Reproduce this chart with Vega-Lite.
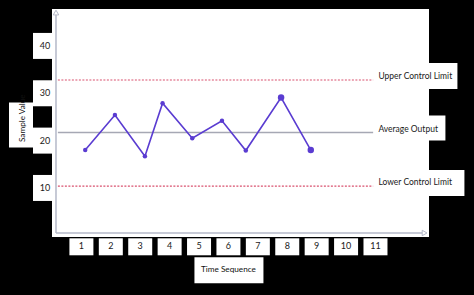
{
  "$schema": "https://vega.github.io/schema/vega-lite/v6.json",
  "width": 377,
  "height": 228,
  "autosize": {"type": "none"},
  "padding": {"left": 52, "top": 9, "right": 45, "bottom": 58},
  "background": "#000000",
  "config": {
    "view": {"fill": "#ffffff", "stroke": null},
    "font": "Lato",
    "axis": {"disable": true}
  },
  "datasets": {
    "series": [
      {"t": 1.13, "v": 18.0},
      {"t": 2.14, "v": 25.4},
      {"t": 3.16, "v": 16.7},
      {"t": 3.76, "v": 27.9},
      {"t": 4.77, "v": 20.5},
      {"t": 5.78, "v": 24.2},
      {"t": 6.59, "v": 17.9},
      {"t": 7.79, "v": 29.1},
      {"t": 8.8, "v": 18.0}
    ],
    "xticks": [{"t": 1}, {"t": 2}, {"t": 3}, {"t": 4}, {"t": 5}, {"t": 6}, {"t": 7}, {"t": 8}, {"t": 9}, {"t": 10}, {"t": 11}],
    "yticks": [{"v": 10}, {"v": 20}, {"v": 30}, {"v": 40}],
    "limits": [
      {"label": "Upper Control Limit", "value": 32.8, "kind": "limit"},
      {"label": "Average Output", "value": 21.7, "kind": "average"},
      {"label": "Lower Control Limit", "value": 10.4, "kind": "limit"}
    ],
    "one": [{}]
  },
  "layer": [
    {
      "data": {"name": "xticks"},
      "mark": {"type": "point", "filled": true, "fill": "#ffffff", "opacity": 1, "strokeWidth": 0, "size": 4, "shape": "M-12,3H12V20H-12Z"},
      "encoding": {
        "x": {"field": "t", "type": "quantitative", "scale": {"domain": [0, 12.82], "nice": false, "zero": false}},
        "y": {"datum": 0, "type": "quantitative", "scale": {"domain": [-0.36, 47.8], "nice": false, "zero": false}}
      }
    },
    {
      "data": {"name": "xticks"},
      "mark": {"type": "text", "align": "center", "baseline": "middle", "dy": 11, "fontSize": 9, "color": "#1a1a1a"},
      "encoding": {
        "x": {"field": "t", "type": "quantitative"},
        "y": {"datum": 0, "type": "quantitative"},
        "text": {"field": "t", "type": "quantitative", "format": "d"}
      }
    },
    {
      "data": {"name": "yticks"},
      "mark": {"type": "point", "filled": true, "fill": "#ffffff", "opacity": 1, "strokeWidth": 0, "size": 4, "shape": "M-19,-13H0V13H-19Z"},
      "encoding": {
        "x": {"datum": 0, "type": "quantitative"},
        "y": {"field": "v", "type": "quantitative"}
      }
    },
    {
      "data": {"name": "yticks"},
      "mark": {"type": "text", "align": "center", "baseline": "middle", "dx": -7, "fontSize": 9, "color": "#1a1a1a"},
      "encoding": {
        "x": {"datum": 0, "type": "quantitative"},
        "y": {"field": "v", "type": "quantitative"},
        "text": {"field": "v", "type": "quantitative", "format": "d"}
      }
    },
    {
      "data": {"name": "one"},
      "mark": {"type": "point", "filled": true, "fill": "#ffffff", "opacity": 1, "strokeWidth": 0, "size": 4, "shape": "M-43,-38H-19V7H-43Z"},
      "encoding": {
        "x": {"datum": 0, "type": "quantitative"},
        "y": {"datum": 20, "type": "quantitative"}
      }
    },
    {
      "data": {"name": "one"},
      "mark": {"type": "text", "text": "Sample Value", "angle": 270, "align": "left", "baseline": "middle", "fontSize": 8.2, "color": "#111111"},
      "encoding": {
        "x": {"datum": -0.99, "type": "quantitative"},
        "y": {"datum": 19.7, "type": "quantitative"}
      }
    },
    {
      "data": {"name": "one"},
      "mark": {"type": "point", "filled": true, "fill": "#ffffff", "opacity": 1, "strokeWidth": 0, "size": 4, "shape": "M-34,22H35V48H-34Z"},
      "encoding": {
        "x": {"datum": 6, "type": "quantitative"},
        "y": {"datum": 0, "type": "quantitative"}
      }
    },
    {
      "data": {"name": "one"},
      "mark": {"type": "text", "text": "Time Sequence", "align": "center", "baseline": "middle", "fontSize": 8.2, "color": "#111111"},
      "encoding": {
        "x": {"datum": 6, "type": "quantitative"},
        "y": {"datum": -7.33, "type": "quantitative"}
      }
    },
    {
      "data": {"name": "limits"},
      "mark": {"type": "point", "filled": true, "fill": "#ffffff", "opacity": 1, "strokeWidth": 0, "size": 4},
      "encoding": {
        "x": {"datum": 11.1, "type": "quantitative"},
        "y": {"field": "value", "type": "quantitative"},
        "shape": {"field": "label", "type": "nominal", "legend": null, "scale": {"domain": ["Upper Control Limit", "Average Output", "Lower Control Limit"], "range": ["M-2,-17H79V9H-2Z", "M-2,-17H67V8H-2Z", "M-2,-16H86V10H-2Z"]}}
      }
    },
    {
      "data": {"name": "one"},
      "mark": {"type": "rule", "color": "#b4b8c8", "strokeWidth": 1.5},
      "encoding": {
        "x": {"datum": 0.136, "type": "quantitative"},
        "y": {"datum": 0.49, "type": "quantitative"},
        "y2": {"datum": 46.6}
      }
    },
    {
      "data": {"name": "one"},
      "mark": {"type": "rule", "color": "#b4b8c8", "strokeWidth": 1.5},
      "encoding": {
        "x": {"datum": 0.136, "type": "quantitative"},
        "x2": {"datum": 12.6},
        "y": {"datum": 0.49, "type": "quantitative"}
      }
    },
    {
      "data": {"name": "one"},
      "mark": {"type": "point", "shape": "triangle-up", "filled": false, "fill": "#ffffff", "fillOpacity": 1, "stroke": "#b4b8c8", "strokeWidth": 1, "opacity": 1, "size": 30},
      "encoding": {
        "x": {"datum": 0.136, "type": "quantitative"},
        "y": {"datum": 47.05, "type": "quantitative"}
      }
    },
    {
      "data": {"name": "one"},
      "mark": {"type": "point", "shape": "triangle-right", "filled": false, "fill": "#ffffff", "fillOpacity": 1, "stroke": "#b4b8c8", "strokeWidth": 1, "opacity": 1, "size": 30},
      "encoding": {
        "x": {"datum": 12.67, "type": "quantitative"},
        "y": {"datum": 0.49, "type": "quantitative"}
      }
    },
    {
      "data": {"name": "limits"},
      "transform": [{"filter": "datum.kind === 'limit'"}],
      "mark": {"type": "rule", "color": "#d9506e", "strokeWidth": 1.2, "strokeDash": [2, 1.5]},
      "encoding": {
        "x": {"datum": 0.2, "type": "quantitative"},
        "x2": {"datum": 10.92},
        "y": {"field": "value", "type": "quantitative"}
      }
    },
    {
      "data": {"name": "limits"},
      "transform": [{"filter": "datum.kind === 'average'"}],
      "mark": {"type": "rule", "color": "#a6a8b4", "strokeWidth": 1.4},
      "encoding": {
        "x": {"datum": 0.2, "type": "quantitative"},
        "x2": {"datum": 10.92},
        "y": {"field": "value", "type": "quantitative"}
      }
    },
    {
      "data": {"name": "limits"},
      "mark": {"type": "text", "align": "left", "baseline": "middle", "dy": -4, "fontSize": 8.5, "color": "#1a1a1a"},
      "encoding": {
        "x": {"datum": 11.1, "type": "quantitative"},
        "y": {"field": "value", "type": "quantitative"},
        "text": {"field": "label"}
      }
    },
    {
      "data": {"name": "series"},
      "mark": {"type": "line", "color": "#5a3cd1", "strokeWidth": 1.6},
      "encoding": {
        "x": {"field": "t", "type": "quantitative"},
        "y": {"field": "v", "type": "quantitative"}
      }
    },
    {
      "data": {"name": "series"},
      "mark": {"type": "point", "filled": true, "color": "#5a3cd1", "opacity": 1},
      "encoding": {
        "x": {"field": "t", "type": "quantitative", "scale": {"domain": [0, 12.82], "nice": false, "zero": false}},
        "y": {"field": "v", "type": "quantitative", "scale": {"domain": [-0.36, 47.8], "nice": false, "zero": false}},
        "size": {"condition": {"test": "datum.t > 7.5", "value": 42}, "value": 20}
      }
    }
  ]
}
